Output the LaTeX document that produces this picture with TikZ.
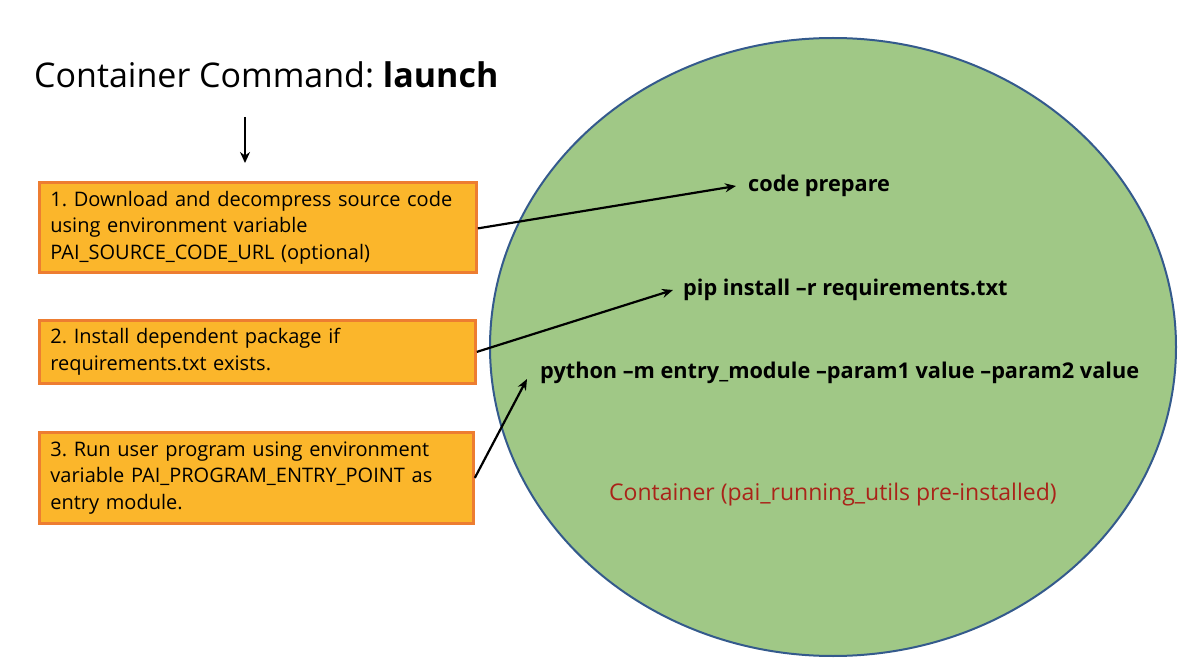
\documentclass[tikz,border=0pt]{standalone}
\usepackage{fontspec}
\setmainfont{Open Sans}
\usetikzlibrary{arrows.meta,shapes.geometric}
\definecolor{boxfill}{RGB}{251,182,43}
\definecolor{boxline}{RGB}{237,125,49}
\definecolor{ellfill}{RGB}{160,200,134}
\definecolor{ellline}{RGB}{52,90,140}
\definecolor{redtext}{RGB}{170,35,25}
\tikzset{
  stepbox/.style={draw=boxline, fill=boxfill, line width=2.8pt, anchor=north west, inner xsep=11pt, inner ysep=0pt, text width=#1, align=left, font=\fontsize{20}{26.5}\selectfont},
  cmd/.style={font=\bfseries\fontsize{21.7}{24}\selectfont, inner sep=0pt},
  conn/.style={-{Stealth[length=11pt,width=9pt]}, line width=2.2pt},
}
\frenchspacing
\begin{document}
\begin{tikzpicture}[x=1pt,y=-1pt]
\useasboundingbox (0,0) rectangle (1179,671);
\node[draw=ellline, fill=ellfill, line width=2pt, ellipse, minimum width=686pt, minimum height=618pt, inner sep=0pt] (cont) at (833,347) {};
\node[anchor=west, inner sep=0pt, font=\fontsize{34}{38}\selectfont] (title) at (34,75) {Container Command: \textbf{launch}};
\coordinate (ar1) at (245,117);
\coordinate (ar2) at (245,163);
\draw[-{Stealth[length=11pt,width=10pt]}, line width=2.6pt] (ar1) -- (ar2);
\node[stepbox=415pt, minimum height=90pt] (b1) at (38,181) {1. Download and decompress source code\\using environment variable\\PAI\_SOURCE\_CODE\_URL (optional)};
\node[stepbox=414pt, minimum height=63pt] (b2) at (38,319) {2. Install dependent package if\\requirements.txt exists.};
\node[stepbox=412pt, minimum height=91pt] (b3) at (38,431) {3. Run user program using environment\\variable PAI\_PROGRAM\_ENTRY\_POINT as\\entry module.};
\node[cmd, anchor=west] (c1) at (748,186) {code prepare};
\node[cmd, anchor=west] (c2) at (683,290) {pip install –r requirements.txt};
\node[cmd, anchor=west] (c3) at (540,373) {python –m entry\_module –param1 value –param2 value};
\node[anchor=west, inner sep=0pt, text=redtext, font=\fontsize{23}{26}\selectfont] (lab) at (609,495) {Container (pai\_running\_utils pre-installed)};
\draw[conn] ([yshift=-1pt]b1.east) -- ([xshift=-12pt]c1.west);
\draw[conn] ([yshift=0pt]b2.east) -- ([xshift=-10pt]c2.west);
\draw[conn] ([yshift=-0pt]b3.east) -- ([xshift=-13pt,yshift=-6pt]c3.west);
\end{tikzpicture}
\end{document}
